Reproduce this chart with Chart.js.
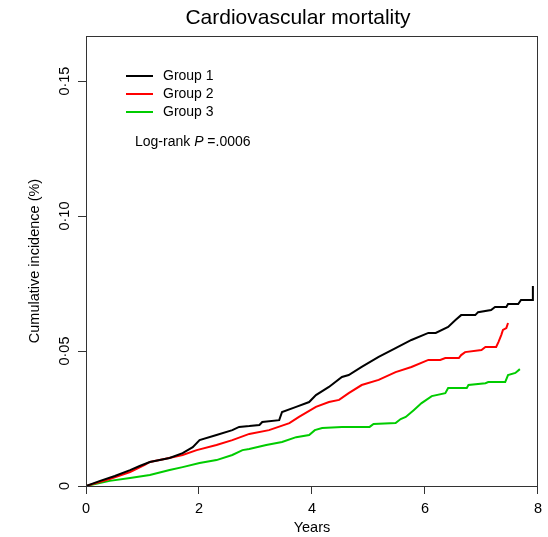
<!DOCTYPE html>
<html>
<head>
<meta charset="utf-8">
<script src="https://cdn.jsdelivr.net/npm/chart.js@4.4.0/dist/chart.umd.min.js"></script>
<style>
  html, body { margin: 0; padding: 0; background: #fff; }
</style>
</head>
<body>
<canvas id="myChart" width="548" height="537"></canvas>
<script>
// Chart data
const titleText = 'Cardiovascular mortality';
const groupNames = ['Group 1', 'Group 2', 'Group 3'];
const groupColors = ['#000000', '#ff0000', '#00cc00'];
const xTicks = [0, 2, 4, 6, 8];
const yTicks = [0, 0.05, 0.10, 0.15];

// curve vertices: years and cumulative incidence
const g1Years = [0, 0.25, 0.51, 0.78, 0.95, 1.13, 1.48, 1.71, 1.89, 2.01, 2.31, 2.59, 2.71, 2.89, 3.07, 3.12, 3.42, 3.47, 3.72, 3.95, 4.07, 4.30, 4.53, 4.65, 4.88, 5.18, 5.48, 5.76, 6.06, 6.19, 6.41, 6.54, 6.64, 6.89, 6.94, 7.17, 7.24, 7.44, 7.47, 7.65, 7.70, 7.90, 7.91];
const g1Inc   = [0, 0.0019, 0.0037, 0.0059, 0.0074, 0.0089, 0.0104, 0.0122, 0.0144, 0.0170, 0.0189, 0.0207, 0.0219, 0.0222, 0.0226, 0.0237, 0.0244, 0.0274, 0.0293, 0.0311, 0.0337, 0.0367, 0.0404, 0.0411, 0.0441, 0.0478, 0.0511, 0.0541, 0.0567, 0.0567, 0.0589, 0.0615, 0.0633, 0.0633, 0.0644, 0.0652, 0.0663, 0.0663, 0.0674, 0.0674, 0.0689, 0.0689, 0.0741];

const g2Years = [0, 0.42, 0.78, 1.04, 1.13, 1.39, 1.71, 1.96, 2.31, 2.59, 2.89, 3.24, 3.60, 3.77, 4.07, 4.30, 4.48, 4.65, 4.88, 5.18, 5.48, 5.76, 6.06, 6.27, 6.36, 6.60, 6.64, 6.71, 7.00, 7.07, 7.26, 7.30, 7.35, 7.38, 7.44, 7.47];
const g2Inc   = [0, 0.0026, 0.0052, 0.0078, 0.0089, 0.0100, 0.0115, 0.0133, 0.0152, 0.0170, 0.0193, 0.0207, 0.0233, 0.0256, 0.0293, 0.0311, 0.0319, 0.0344, 0.0374, 0.0393, 0.0422, 0.0441, 0.0467, 0.0467, 0.0474, 0.0474, 0.0485, 0.0496, 0.0504, 0.0515, 0.0515, 0.0533, 0.0559, 0.0578, 0.0585, 0.0604];

const g3Years = [0, 0.42, 0.78, 1.13, 1.48, 1.71, 2.01, 2.31, 2.59, 2.77, 2.89, 3.19, 3.47, 3.72, 3.95, 4.05, 4.18, 4.53, 5.02, 5.09, 5.48, 5.57, 5.66, 5.80, 5.94, 6.12, 6.36, 6.41, 6.74, 6.77, 7.07, 7.12, 7.42, 7.47, 7.60, 7.68];
const g3Inc   = [0, 0.0019, 0.0030, 0.0041, 0.0059, 0.0070, 0.0085, 0.0096, 0.0115, 0.0133, 0.0137, 0.0152, 0.0163, 0.0181, 0.0189, 0.0207, 0.0215, 0.0219, 0.0219, 0.0230, 0.0233, 0.0248, 0.0256, 0.0281, 0.0307, 0.0333, 0.0344, 0.0363, 0.0363, 0.0374, 0.0381, 0.0385, 0.0385, 0.0411, 0.0419, 0.0433];

const fontFamily = '"Liberation Sans", Arial, Helvetica, sans-serif';
const axisColor = '#333333';

Chart.defaults.font.family = fontFamily;
Chart.defaults.color = '#000';

const toPoints = (xs, ys) => xs.map((x, i) => ({ x: x, y: ys[i] }));
const seriesYears = [g1Years, g2Years, g3Years];
const seriesInc = [g1Inc, g2Inc, g3Inc];

// Box, title, legend and log-rank text, drawn the R way
const overlayPlugin = {
    id: 'overlay',
    afterDraw(chart) {
        const { ctx, chartArea } = chart;
        ctx.save();

        // top and right sides of the plot box
        ctx.strokeStyle = axisColor;
        ctx.lineWidth = 1;
        ctx.strokeRect(Math.round(chartArea.left) + 0.5, Math.round(chartArea.top) + 0.5,
            Math.round(chartArea.right - chartArea.left) - 1, Math.round(chartArea.bottom - chartArea.top));

        // title
        ctx.fillStyle = '#000';
        ctx.font = '21px ' + fontFamily;
        ctx.textAlign = 'center';
        ctx.textBaseline = 'alphabetic';
        ctx.fillText(titleText, 298, 24);

        // legend
        ctx.font = '14px ' + fontFamily;
        ctx.textAlign = 'left';
        ctx.textBaseline = 'middle';
        chart.data.datasets.forEach((ds, i) => {
            const y = 76 + i * 18;
            ctx.strokeStyle = ds.borderColor;
            ctx.lineWidth = 2;
            ctx.beginPath();
            ctx.moveTo(126, y);
            ctx.lineTo(153, y);
            ctx.stroke();
            ctx.fillStyle = '#000';
            ctx.fillText(ds.label, 163, y);
        });

        // log-rank P value, P in italics
        let x = 135;
        const y = 142;
        const parts = [['Log-rank ', ''], ['P', 'italic '], [' =.0006', '']];
        parts.forEach(([txt, style]) => {
            ctx.font = style + '14px ' + fontFamily;
            ctx.fillText(txt, x, y);
            x += ctx.measureText(txt).width;
        });

        ctx.restore();
    }
};

const ctx = document.getElementById('myChart').getContext('2d');
const myChart = new Chart(ctx, {
    type: 'line',
    data: {
        datasets: groupNames.map((name, i) => ({
            label: name,
            data: toPoints(seriesYears[i], seriesInc[i]),
            borderColor: groupColors[i],
            backgroundColor: groupColors[i],
            borderWidth: 2,
            pointRadius: 0,
            tension: 0,
            fill: false
        }))
    },
    options: {
        responsive: false,
        animation: false,
        devicePixelRatio: 1,
        layout: { padding: { top: 36, right: 8, left: 0, bottom: 0 } },
        plugins: {
            legend: { display: false },
            title: { display: false },
            tooltip: { enabled: false }
        },
        scales: {
            x: {
                type: 'linear',
                min: 0,
                max: 8,
                afterBuildTicks: (scale) => { scale.ticks = xTicks.map(v => ({ value: v })); },
                afterFit: (scale) => { scale.height = 51; },
                grid: { drawOnChartArea: false, drawTicks: true, tickLength: 8, color: axisColor, lineWidth: 1 },
                border: { display: true, color: axisColor, width: 1 },
                ticks: { color: '#000', font: { size: 14.5 }, padding: 6, maxRotation: 0 },
                title: { display: true, text: 'Years', color: '#000', font: { size: 14.5 }, padding: { top: 0, bottom: 0 } }
            },
            y: {
                type: 'linear',
                min: 0,
                max: 0.1667,
                afterBuildTicks: (scale) => { scale.ticks = yTicks.map(v => ({ value: v })); },
                afterFit: (scale) => { scale.width = 86; },
                grid: { drawOnChartArea: false, drawTicks: true, tickLength: 8, color: axisColor, lineWidth: 1 },
                border: { display: true, color: axisColor, width: 1 },
                ticks: {
                    color: '#000',
                    font: { size: 14.5 },
                    minRotation: 90,
                    maxRotation: 90,
                    crossAlign: 'center',
                    padding: -1.5,
                    callback: (v) => v === 0 ? '0' : v.toFixed(2).replace('.', '\u00b7')
                },
                title: { display: true, text: 'Cumulative incidence (%)', color: '#000', font: { size: 14.5 }, padding: { top: 26, bottom: 0 } }
            }
        }
    },
    plugins: [overlayPlugin]
});
</script>
</body>
</html>
